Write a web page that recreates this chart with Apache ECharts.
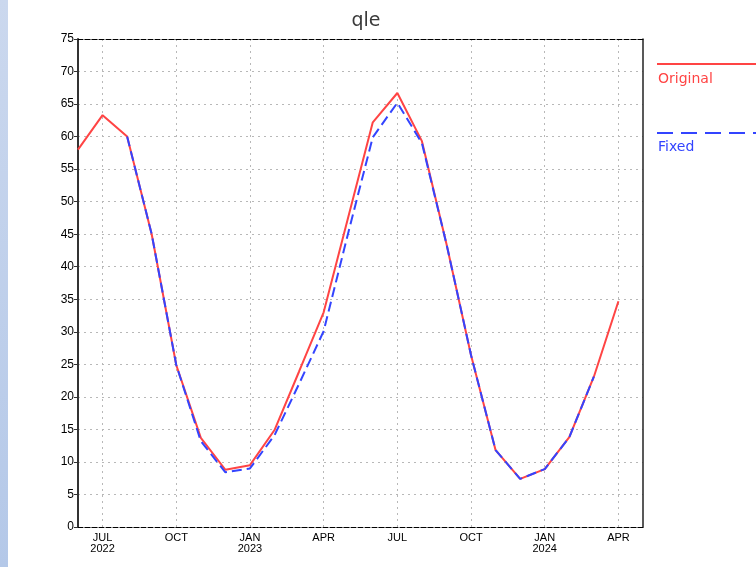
<!DOCTYPE html>
<html lang="en">
<head>
    <meta charset="UTF-8">
    <title>qle</title>
    <script src="https://cdn.jsdelivr.net/npm/echarts@6/dist/echarts.min.js"></script>
    <style>
        html, body { margin: 0; padding: 0; background: #fff; }
        #main { width: 756px; height: 567px; }
    </style>
</head>
<body>
<div id="main"></div>
<script type="text/javascript">
    // months Jun 2022 .. May 2024 (one category per month)
    var months = ["JUN", "JUL\n2022", "AUG", "SEP", "OCT", "NOV", "DEC", "JAN\n2023", "FEB", "MAR", "APR", "MAY",
        "JUN", "JUL", "AUG", "SEP", "OCT", "NOV", "DEC", "JAN\n2024", "FEB", "MAR", "APR", "MAY"];
    // which months get a label / grid line
    var labelMonths = [1, 4, 7, 10, 13, 16, 19, 22];

    var original = [58.0, 63.3, 60.0, 45.0, 24.9, 13.7, 8.8, 9.5, 14.9, 23.9, 33.0, 47.6,
        62.2, 66.7, 59.3, 43.5, 26.4, 11.8, 7.4, 8.9, 13.8, 23.1, 34.7];
    var fixed = [null, null, 60.0, 45.0, 24.9, 13.2, 8.4, 9.0, 14.1, 22.0, 30.1, 45.2,
        59.9, 65.2, 59.0, 43.5, 26.4, 11.8, 7.4, 8.9, 13.8, 23.1];

    var yTicks = { min: 0, max: 75, step: 5 };

    var myChart = echarts.init(document.getElementById('main'));

    function showLabel(i) {
        return labelMonths.indexOf(i) >= 0;
    }

    myChart.setOption({
        animation: false,
        backgroundColor: '#fff',
        title: {
            text: 'qle',
            left: 361,
            top: 7,
            textAlign: 'center',
            textStyle: { fontFamily: 'DejaVu Sans', fontSize: 19, fontWeight: 'normal', color: '#3a3a3a' }
        },
        grid: { left: 78, right: 113, top: 39, bottom: 40, containLabel: false },
        xAxis: [{
            type: 'category',
            data: months,
            boundaryGap: false,
            axisLine: { show: true, onZero: false, lineStyle: { color: '#000', width: 1, type: [5, 2] } },
            axisTick: { show: false },
            axisLabel: {
                interval: function (i) { return showLabel(i); },
                formatter: function (v, i) { return showLabel(i) ? v : ''; },
                fontFamily: 'Liberation Sans', fontSize: 11, color: '#000', lineHeight: 11, margin: 5
            },
            splitLine: {
                show: true,
                interval: function (i) { return showLabel(i); },
                lineStyle: { color: '#b8b8b8', type: [2, 4], width: 1 }
            }
        }, {
            type: 'category',
            data: months,
            boundaryGap: false,
            position: 'top',
            axisLine: { show: true, onZero: false, lineStyle: { color: '#000', width: 1, type: [5, 2] } },
            axisTick: { show: false },
            axisLabel: { show: false },
            splitLine: { show: false }
        }],
        yAxis: [{
            type: 'value',
            min: yTicks.min,
            max: yTicks.max,
            interval: yTicks.step,
            axisLine: { show: true, onZero: false, lineStyle: { color: '#333', width: 2 } },
            axisTick: { show: true, length: 4, lineStyle: { color: '#333' } },
            axisLabel: { fontFamily: 'Liberation Sans', fontSize: 12, color: '#000', margin: 4 },
            splitLine: { show: true, lineStyle: { color: '#b8b8b8', type: [2, 4], width: 1 } }
        }, {
            type: 'value',
            position: 'right',
            min: yTicks.min,
            max: yTicks.max,
            interval: yTicks.step,
            axisLine: { show: true, onZero: false, lineStyle: { color: '#222', width: 1.5 } },
            axisTick: { show: false },
            axisLabel: { show: false },
            splitLine: { show: false }
        }],
        series: [{
            name: 'Original',
            type: 'line',
            data: original,
            showSymbol: false,
            symbol: 'none',
            lineStyle: { color: '#ff4444', width: 2 },
            z: 3
        }, {
            name: 'Fixed',
            type: 'line',
            data: fixed,
            showSymbol: false,
            symbol: 'none',
            connectNulls: false,
            lineStyle: { color: '#3344ff', width: 2, type: [10, 5] },
            z: 4
        }],
        graphic: [{
            type: 'rect',
            left: 0, top: 0,
            shape: { width: 8, height: 567 },
            style: {
                fill: new echarts.graphic.LinearGradient(0, 0, 0, 1, [
                    { offset: 0, color: '#cbd8ee' },
                    { offset: 1, color: '#b4c8e8' }
                ])
            },
            silent: true
        }, {
            type: 'line',
            shape: { x1: 657, y1: 64, x2: 756, y2: 64 },
            style: { stroke: '#ff4444', lineWidth: 2 }
        }, {
            type: 'text',
            left: 658, top: 72,
            style: { text: 'Original', fill: '#ff4444', font: '14px "DejaVu Sans"' }
        }, {
            type: 'line',
            shape: { x1: 657, y1: 133, x2: 756, y2: 133 },
            style: { stroke: '#3344ff', lineWidth: 2, lineDash: [16, 8] }
        }, {
            type: 'text',
            left: 658, top: 140,
            style: { text: 'Fixed', fill: '#3344ff', font: '14px "DejaVu Sans"' }
        }]
    });
</script>
</body>
</html>
